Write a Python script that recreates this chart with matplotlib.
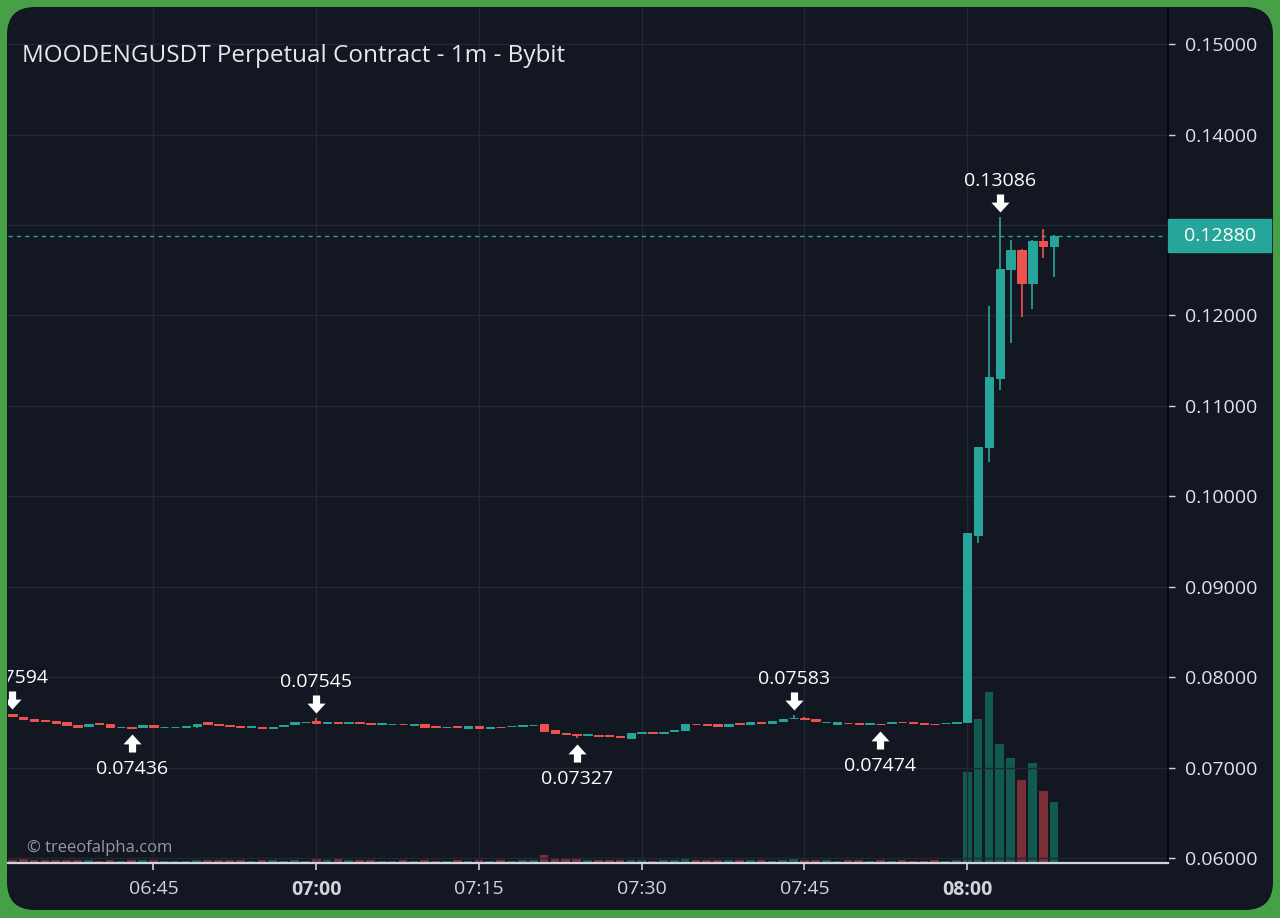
import matplotlib
matplotlib.use("Agg")
import matplotlib.pyplot as plt
import numpy as np
from matplotlib.patches import FancyBboxPatch, Rectangle
from matplotlib.path import Path
from matplotlib.transforms import IdentityTransform, offset_copy, blended_transform_factory

plt.rcParams['font.family'] = ['Open Sans', 'DejaVu Sans']

# minutes after 06:00, one candle per minute from 06:32 to 08:08
minutes = np.arange(32, 129)

opens = [
    .07590, .07563, .07536, .07525, .07517, .07503, .07473, .07459, .07488, .07482,
    .07450, .07450, .07451, .07471, .07450, .07450, .07448, .07462, .07503, .07484,
    .07473, .07457, .07448, .07450, .07442, .07465, .07481, .07502, .07512, .07496,
    .07503, .07493, .07501, .07490, .07480, .07483, .07487, .07476, .07482, .07458,
    .07450, .07457, .07441, .07457, .07438, .07454, .07455, .07463, .07472, .07478,
    .07412, .07377, .07372, .07359, .07361, .07355, .07350, .07331, .07381, .07394,
    .07386, .07400, .07419, .07484, .07482, .07479, .07462, .07493, .07485, .07504,
    .07496, .07516, .07544, .07548, .07534, .07505, .07485, .07498, .07489, .07481,
    .07487, .07489, .07508, .07501, .07491, .07487, .07488, .07496,
    .07504, .0957, .1054, .1131, .1251, .1272, .1236, .1282, .1277]

closes = [
    .07566, .07533, .07516, .07519, .07497, .07467, .07453, .07483, .07482, .07452,
    .07454, .07440, .07475, .07447, .07454, .07454, .07464, .07486, .07483, .07472,
    .07461, .07447, .07456, .07442, .07454, .07469, .07505, .07506, .07496, .07504,
    .07491, .07501, .07493, .07480, .07490, .07487, .07477, .07480, .07452, .07454,
    .07454, .07447, .07457, .07441, .07450, .07450, .07463, .07471, .07476, .07408,
    .07382, .07371, .07356, .07369, .07353, .07345, .07334, .07382, .07391, .07386,
    .07394, .07416, .07481, .07480, .07474, .07455, .07486, .07485, .07501, .07496,
    .07512, .07536, .07552, .07538, .07510, .07509, .07501, .07488, .07481, .07489,
    .07477, .07505, .07500, .07493, .07487, .07483, .07490, .07504,
    .0959, .1054, .1132, .1251, .1272, .1236, .1282, .1277, .1288]

# visible wicks (candle index -> price); other candles show only the body
wick_hi = {0: .07594, 28: .07545, 72: .07583, 73: .07556,
           88: .0959, 89: .1055, 90: .1210, 91: .13086, 92: .1283,
           93: .1273, 94: .1283, 95: .1295, 96: .1289}
wick_lo = {11: .07436, 17: .07440, 52: .07327, 56: .07330, 80: .07474,
           88: .0750, 89: .0948, 90: .1038, 91: .1117, 92: .1169,
           93: .1198, 94: .1207, 95: .1264, 96: .1242}

volumes = [
    0.35, 0.4, 0.3, 0.3, 0.3, 0.35, 0.35, 0.3, 0.25, 0.3,
    0.25, 0.3, 0.3, 0.3, 0.25, 0.25, 0.25, 0.3, 0.3, 0.3,
    0.3, 0.3, 0.25, 0.3, 0.3, 0.25, 0.3, 0.25, 0.45, 0.3,
    0.4, 0.3, 0.3, 0.3, 0.25, 0.25, 0.3, 0.25, 0.3, 0.25,
    0.25, 0.3, 0.25, 0.3, 0.25, 0.3, 0.25, 0.3, 0.3, 0.8,
    0.5, 0.45, 0.5, 0.3, 0.3, 0.3, 0.35, 0.3, 0.3, 0.25,
    0.3, 0.35, 0.45, 0.3, 0.3, 0.3, 0.3, 0.3, 0.3, 0.3,
    0.25, 0.3, 0.4, 0.35, 0.3, 0.3, 0.25, 0.3, 0.3, 0.25,
    0.3, 0.25, 0.3, 0.25, 0.25, 0.3, 0.25, 0.3,
    9.1, 14.4, 17.1, 11.9, 10.5, 8.3, 10.0, 7.2, 6.1]

# markers: (candle index, price, label, is_high)
marks = [(0, .07594, "0.07594", True), (11, .07436, "0.07436", False),
         (28, .07545, "0.07545", True), (52, .07327, "0.07327", False),
         (72, .07583, "0.07583", True), (80, .07474, "0.07474", False),
         (91, .13086, "0.13086", True)]

last_price = 0.1288
price_ticks = [0.06, 0.07, 0.08, 0.09, 0.10, 0.11, 0.12, 0.13, 0.14, 0.15]
time_ticks = [45, 60, 75, 90, 105, 120]
time_labels = ["06:45", "07:00", "07:15", "07:30", "07:45", "08:00"]

UP = '#26a69a'
DOWN = '#ef5350'
BG = '#131722'
TXT = '#d1d4dc'
FS = 14

W, H = 1280, 918
fig = plt.figure(figsize=(W / 100, H / 100), dpi=100, facecolor='#46a046')
panel = FancyBboxPatch((7, 8), 1266, 903, boxstyle='round,pad=0,rounding_size=28',
                       transform=IdentityTransform(), fc=BG, ec='none', zorder=0)
fig.add_artist(panel)

ax = fig.add_axes([8 / W, 55 / H, 1160 / W, 855 / H])
ax2 = ax.twinx()
ax.set_zorder(ax2.get_zorder() + 1)
for a in (ax, ax2):
    a.patch.set_visible(False)

o = np.array(opens)
c = np.array(closes)
hi = np.array([wick_hi.get(i, max(o[i], c[i])) for i in range(len(o))])
lo = np.array([wick_lo.get(i, min(o[i], c[i])) for i in range(len(o))])
up = c >= o
cols = np.where(up, UP, DOWN)

# volume pane
vcols = np.where(up, '#115a50', '#7a2e36')
ax2.bar(minutes, volumes, width=0.8, color=vcols, linewidth=0)
ax2.set_ylim(0, 85.5)
ax2.set_yticks([])
for s in ax2.spines.values():
    s.set_visible(False)

# candles
ax.vlines(minutes, lo, hi, colors=cols, linewidth=1.2, zorder=3)
ax.bar(minutes, np.abs(c - o), bottom=np.minimum(o, c), width=0.78,
       color=cols, edgecolor=cols, linewidth=0.7, zorder=4)

ax.set_xlim(31.6, 138.5)
ax.set_ylim(0.059447, 0.15399)

ax.set_yticks(price_ticks)
# the 0.13000 label sits under the last-price tag
ax.set_yticklabels(["" if abs(p - 0.13) < 1e-9 else f"{p:.5f}" for p in price_ticks])
ax.yaxis.tick_right()
ax.set_xticks(time_ticks)
ax.set_xticklabels(time_labels)
for lab in ax.get_xticklabels():
    if lab.get_text() in ("07:00", "08:00"):
        lab.set_fontweight('bold')
ax.tick_params(axis='y', colors=TXT, labelsize=FS, length=5, pad=7, width=1)
ax.tick_params(axis='x', colors=TXT, labelsize=FS, length=5, pad=7, width=1.2)
ax.tick_params(axis='y', which='both', labelcolor='#e0e3eb')
ax.grid(True, color='#232733', linewidth=1)
ax.set_axisbelow(True)
for side in ('top', 'left'):
    ax.spines[side].set_visible(False)
ax.spines['bottom'].set_color(TXT)
ax.spines['bottom'].set_linewidth(1.6)
ax.spines['right'].set_color('#05070a')
ax.spines['right'].set_linewidth(1.5)

# last price line + tag
ax.axhline(last_price, color=UP, linestyle=(0, (3, 3)), linewidth=1, zorder=2)
btr = blended_transform_factory(ax.transAxes, ax.transData)
tag_h = 16.5 / 9044
ax.add_patch(Rectangle((1.0, last_price - tag_h), 103 / 1160, 2 * tag_h,
                       transform=btr, color=UP, clip_on=False, zorder=10))
ax.text((1184 - 8) / 1160, last_price, f"{last_price:.5f}", transform=btr,
        color='white', fontsize=FS, va='center', ha='left', clip_on=False, zorder=11)

# high / low markers
shape = Path([(-0.4, 1.0), (0.4, 1.0), (0.4, 0.1), (1.0, 0.1), (0.0, -1.0),
              (-1.0, 0.1), (-0.4, 0.1), (-0.4, 1.0)], closed=True)
shape_up = Path(shape.vertices * np.array([1, -1]), closed=True)
for idx, price, label, is_high in marks:
    x = minutes[idx]
    if is_high:
        tr = offset_copy(ax.transData, fig=fig, x=0, y=14, units='dots')
        ax.plot(x, price, marker=shape, ms=13, color='white', mec='none',
                transform=tr, zorder=6, clip_on=True)
        ax.annotate(label, (x, price), xytext=(0, 36 * 0.72), textcoords='offset points',
                    ha='center', va='center', color='white', fontsize=FS,
                    annotation_clip=False, clip_on=True, zorder=6)
    else:
        tr = offset_copy(ax.transData, fig=fig, x=0, y=-15, units='dots')
        ax.plot(x, price, marker=shape_up, ms=13, color='white', mec='none',
                transform=tr, zorder=6, clip_on=True)
        ax.annotate(label, (x, price), xytext=(0, -41 * 0.72), textcoords='offset points',
                    ha='center', va='center', color='white', fontsize=FS,
                    annotation_clip=False, clip_on=True, zorder=6)

fig.text(22 / W, 1 - 56 / H, "MOODENGUSDT Perpetual Contract - 1m - Bybit",
         color='#e6e8ee', fontsize=17.5, va='center', ha='left')
fig.text(27 / W, 1 - 848 / H, "© treeofalpha.com", color='#9598a1',
         fontsize=12, va='center', ha='left')

fig.savefig("out.png", dpi=100, facecolor=fig.get_facecolor())
